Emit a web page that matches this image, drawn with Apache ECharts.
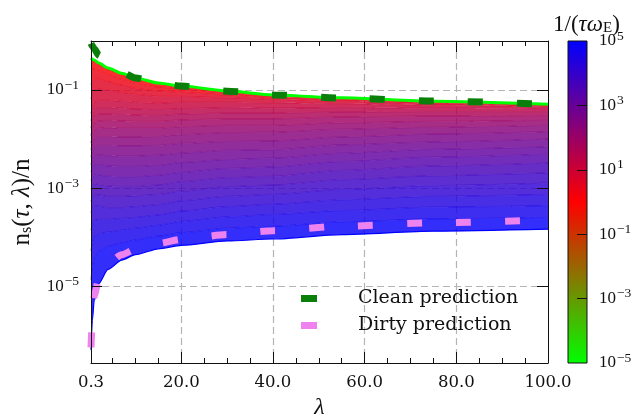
<!DOCTYPE html>
<html>
<head>
<meta charset="utf-8">
<script src="https://cdn.jsdelivr.net/npm/echarts@6/dist/echarts.min.js"></script>
<style>
  html, body { margin: 0; padding: 0; background: #ffffff; }
  #chart { width: 641px; height: 416px; }
</style>
</head>
<body>
<div id="chart"></div>
<script>
// λ sample points shared by every curve
const lambdaGrid = [0.3, 0.6, 1, 2, 4, 7, 10, 15, 20, 30, 40, 55, 75, 100];

// log10 of n_s(τ, λ)/n for the slowest ramp, 1/(τω_E) = 1e-5
const slowRampExponent = -5;
const slowRampCurve = [-0.35, -0.37, -0.39, -0.45, -0.55, -0.66, -0.755, -0.857, -0.92, -1.02, -1.10, -1.16, -1.23, -1.29];

// log10(1/(τω_E)) of each curve in the fan below it
const fanExponents = [0, 0.25, 0.5, 0.75, 1, 1.25, 1.5, 1.75, 2, 2.25, 2.5, 2.75, 3, 3.25, 3.5, 3.75, 4, 4.25, 4.5, 4.75, 5];

// log10 of n_s(τ, λ)/n, one row per exponent above, one column per λ
const fanCurves = [
  [-0.38, -0.40, -0.42, -0.49, -0.59, -0.70, -0.79, -0.88, -0.94, -1.03, -1.10, -1.16, -1.23, -1.29],
  [-0.59, -0.57, -0.57, -0.61, -0.68, -0.78, -0.86, -0.94, -0.98, -1.06, -1.12, -1.18, -1.24, -1.30],
  [-0.89, -0.82, -0.78, -0.78, -0.83, -0.90, -0.97, -1.02, -1.05, -1.10, -1.15, -1.20, -1.26, -1.31],
  [-1.18, -1.07, -1.01, -0.98, -1.00, -1.05, -1.09, -1.13, -1.13, -1.16, -1.19, -1.23, -1.28, -1.32],
  [-1.48, -1.34, -1.26, -1.21, -1.21, -1.23, -1.25, -1.27, -1.25, -1.25, -1.26, -1.28, -1.31, -1.34],
  [-1.63, -1.49, -1.40, -1.36, -1.36, -1.37, -1.39, -1.40, -1.38, -1.36, -1.37, -1.36, -1.37, -1.38],
  [-1.78, -1.63, -1.54, -1.49, -1.49, -1.50, -1.51, -1.52, -1.49, -1.47, -1.47, -1.45, -1.44, -1.44],
  [-1.93, -1.78, -1.68, -1.63, -1.62, -1.63, -1.64, -1.64, -1.61, -1.59, -1.59, -1.55, -1.53, -1.52],
  [-2.08, -1.93, -1.83, -1.78, -1.77, -1.78, -1.78, -1.78, -1.75, -1.72, -1.72, -1.67, -1.64, -1.62],
  [-2.22, -2.09, -2.00, -1.95, -1.95, -1.96, -1.96, -1.95, -1.91, -1.87, -1.86, -1.80, -1.76, -1.72],
  [-2.37, -2.25, -2.16, -2.13, -2.13, -2.14, -2.14, -2.13, -2.09, -2.05, -2.04, -1.96, -1.90, -1.85],
  [-2.52, -2.42, -2.34, -2.32, -2.34, -2.35, -2.35, -2.33, -2.29, -2.23, -2.22, -2.12, -2.06, -2.00],
  [-2.67, -2.59, -2.52, -2.52, -2.55, -2.56, -2.56, -2.54, -2.48, -2.42, -2.39, -2.29, -2.21, -2.16],
  [-2.85, -2.78, -2.72, -2.73, -2.76, -2.77, -2.77, -2.74, -2.68, -2.60, -2.57, -2.46, -2.37, -2.31],
  [-3.03, -2.96, -2.91, -2.93, -2.96, -2.97, -2.97, -2.94, -2.87, -2.79, -2.76, -2.64, -2.55, -2.49],
  [-3.27, -3.19, -3.13, -3.14, -3.17, -3.17, -3.16, -3.13, -3.06, -2.97, -2.94, -2.83, -2.75, -2.69],
  [-3.50, -3.43, -3.36, -3.37, -3.40, -3.40, -3.38, -3.34, -3.26, -3.17, -3.13, -3.03, -2.95, -2.90],
  [-3.86, -3.75, -3.66, -3.64, -3.64, -3.62, -3.60, -3.55, -3.47, -3.38, -3.33, -3.24, -3.17, -3.13],
  [-4.28, -4.11, -3.98, -3.93, -3.90, -3.86, -3.82, -3.76, -3.68, -3.59, -3.54, -3.46, -3.39, -3.36],
  [-4.87, -4.60, -4.41, -4.28, -4.19, -4.12, -4.06, -3.98, -3.91, -3.82, -3.78, -3.69, -3.63, -3.60],
  [-6.30, -5.70, -5.30, -4.95, -4.66, -4.47, -4.36, -4.24, -4.17, -4.08, -4.04, -3.95, -3.88, -3.84]
];

// analytic limits, log10 of n_s/n
const cleanPrediction = [-0.05, -0.10, -0.16, -0.29, -0.47, -0.64, -0.755, -0.86, -0.92, -1.025, -1.10, -1.165, -1.225, -1.29];
const dirtyPrediction = [-6.25, -5.70, -5.20, -4.85, -4.55, -4.36, -4.25, -4.13, -4.05, -3.95, -3.87, -3.78, -3.71, -3.65];

// axes
const lambdaMin = 0.3, lambdaMax = 100;
const lambdaTickLabels = [0.3, 20, 40, 60, 80, 100];
const lambdaMajorTicks = [20, 40, 60, 80];
const lambdaMinorTicks = [5, 10, 15, 25, 30, 35, 45, 50, 55, 65, 70, 75, 85, 90, 95];
const logNsMin = -6.57, logNsMax = 0;
const logNsTicks = [-5, -3, -1];
const colorbarMin = -5, colorbarMax = 5;
const colorbarLabels = [-5, -3, -1, 1, 3, 5];
const colorbarTicks = [-3, -1, 1, 3];

// lime -> red -> blue over log10(1/(τω_E)) in [-5, 5]
function rateColor(e) {
  let r, g, b;
  if (e <= 0) { const t = (e + 5) / 5; r = 255 * t; g = 255 * (1 - t); b = 0; }
  else { const t = e / 5; r = 255 * (1 - t); g = 0; b = 255 * t; }
  return 'rgb(' + Math.round(r) + ',' + Math.round(g) + ',' + Math.round(b) + ')';
}

const serif = 'DejaVu Serif';
const mathSerif = 'Liberation Serif';
const ink = '#111111';
const gridGrey = '#b4b4b4';

function powerLabel(v) {
  const e = Math.round(v);
  return '{b|10}{s|' + (e < 0 ? '\u2212' + (-e) : String(e)) + '}';
}
const powerRich = {
  b: { fontFamily: mathSerif, fontSize: 17, color: ink },
  s: { fontFamily: mathSerif, fontSize: 13.5, color: ink, padding: [0, 0, 10, 1] }
};

// points are stored as [value, λ] so that stacking runs on the value dimension
function pts(values) { return lambdaGrid.map((x, j) => [values[j], x]); }

// fan of curves, stacked so that each band between neighbours is filled
const fanSeries = [];
const last = fanCurves.length - 1;
const lineCommon = {
  type: 'line', stack: 'fan', stackStrategy: 'all', symbol: 'none',
  smooth: 0.25, smoothMonotone: 'x', silent: true, z: 2,
  xAxisIndex: 0, yAxisIndex: 0, emphasis: { disabled: true },
  encode: { x: 1, y: 0 }
};
fanSeries.push(Object.assign({}, lineCommon, {
  name: 'e' + fanExponents[last],
  data: pts(fanCurves[last]),
  lineStyle: { color: rateColor(fanExponents[last]), width: 1.2 }
}));
for (let k = last - 1; k >= 0; k--) {
  const step = fanCurves[k].map((v, j) => v - fanCurves[k + 1][j]);
  fanSeries.push(Object.assign({}, lineCommon, {
    name: 'e' + fanExponents[k],
    data: pts(step),
    lineStyle: { color: rateColor(fanExponents[k]), width: 0.8, opacity: 0.7 },
    areaStyle: { color: rateColor((fanExponents[k] + fanExponents[k + 1]) / 2), opacity: 0.82 }
  }));
}
fanSeries.push(Object.assign({}, lineCommon, {
  name: 'e' + slowRampExponent,
  data: pts(slowRampCurve.map((v, j) => v - fanCurves[0][j])),
  lineStyle: { color: rateColor(slowRampExponent), width: 3 },
  areaStyle: { color: rateColor(0), opacity: 0.9 }
}));

function predictionSeries(name, values, color) {
  return {
    name: name, type: 'line', symbol: 'none', smooth: 0.25, smoothMonotone: 'x',
    xAxisIndex: 0, yAxisIndex: 0, z: 4, silent: true,
    encode: { x: 1, y: 0 },
    data: pts(values),
    itemStyle: { color: color },
    lineStyle: { color: color, width: 7, type: [15, 34], cap: 'butt' }
  };
}

const colorbarGradient = new echarts.graphic.LinearGradient(0, 1, 0, 0, [
  { offset: 0, color: rateColor(-5) },
  { offset: 0.5, color: rateColor(0) },
  { offset: 1, color: rateColor(5) }
]);

const chart = echarts.init(document.getElementById('chart'), null, { renderer: 'canvas' });
chart.setOption({
  animation: false,
  backgroundColor: '#ffffff',
  title: {
    text: '{t|1/(}{i|\u03c4\u03c9}{sub|E}{t|)}',
    left: 548, top: 8,
    textStyle: {
      fontWeight: 'normal',
      rich: {
        t: { fontFamily: mathSerif, fontSize: 23, fontWeight: 'normal', color: ink },
        i: { fontFamily: mathSerif, fontStyle: 'italic', fontWeight: 'normal', fontSize: 23, color: ink },
        sub: { fontFamily: mathSerif, fontSize: 15, fontWeight: 'normal', color: ink, padding: [7, 0, 0, 0] }
      }
    }
  },
  legend: {
    data: ['Clean prediction', 'Dirty prediction'],
    orient: 'vertical', left: 296, top: 284,
    icon: 'rect', itemWidth: 16, itemHeight: 7, itemGap: 8,
    selectedMode: false,
    textStyle: { fontFamily: serif, fontSize: 19, color: ink, padding: [0, 0, 0, 36] }
  },
  grid: [
    { left: 91, right: 93, top: 41, bottom: 53, containLabel: false, outerBoundsMode: 'none' },
    { left: 568, width: 19, top: 41, bottom: 53, containLabel: false, outerBoundsMode: 'none' }
  ],
  xAxis: [
    { // bottom: labels, frame, major ticks
      type: 'value', gridIndex: 0, min: lambdaMin, max: lambdaMax, position: 'bottom', z: 10,
      name: '\u03bb', nameLocation: 'middle', nameGap: 32,
      nameTextStyle: { fontFamily: mathSerif, fontStyle: 'italic', fontSize: 24, color: ink },
      axisLine: { show: true, onZero: false, lineStyle: { color: ink, width: 1 } },
      axisTick: { show: true, inside: true, length: 11, customValues: lambdaMajorTicks, lineStyle: { color: ink } },
      axisLabel: { customValues: lambdaTickLabels, formatter: v => Number(v).toFixed(1), margin: 11,
                   fontFamily: serif, fontSize: 16.5, color: ink },
      splitLine: { show: false }
    },
    { // bottom minor ticks
      type: 'value', gridIndex: 0, min: lambdaMin, max: lambdaMax, position: 'bottom', z: 10,
      axisLine: { show: false, onZero: false },
      axisTick: { show: true, inside: true, length: 5, customValues: lambdaMinorTicks, lineStyle: { color: ink } },
      axisLabel: { show: false }, splitLine: { show: false }
    },
    { // top frame, major ticks
      type: 'value', gridIndex: 0, min: lambdaMin, max: lambdaMax, position: 'top', z: 10,
      axisLine: { show: true, onZero: false, lineStyle: { color: ink, width: 1 } },
      axisTick: { show: true, inside: true, length: 11, customValues: lambdaMajorTicks, lineStyle: { color: ink } },
      axisLabel: { show: false }, splitLine: { show: false }
    },
    { // top minor ticks
      type: 'value', gridIndex: 0, min: lambdaMin, max: lambdaMax, position: 'top', z: 10,
      axisLine: { show: false, onZero: false },
      axisTick: { show: true, inside: true, length: 5, customValues: lambdaMinorTicks, lineStyle: { color: ink } },
      axisLabel: { show: false }, splitLine: { show: false }
    },
    { // dashed vertical grid, under the curves
      type: 'value', gridIndex: 0, min: lambdaMin, max: lambdaMax, position: 'bottom', z: 0,
      axisLine: { show: false, onZero: false },
      axisTick: { show: false, customValues: lambdaMajorTicks },
      axisLabel: { show: false, customValues: lambdaMajorTicks },
      splitLine: { show: true, lineStyle: { color: gridGrey, width: 1.2, type: [7, 4] } }
    },
    { // colorbar
      type: 'value', gridIndex: 1, min: 0, max: 1, show: false
    }
  ],
  yAxis: [
    { // left: labels, frame, ticks
      type: 'value', gridIndex: 0, min: logNsMin, max: logNsMax, position: 'left', z: 10,
      name: '{r|n}{sub|s}{r|(}{i|\u03c4}{r|, }{i|\u03bb}{r|)/n}',
      nameLocation: 'middle', nameGap: 56, nameRotate: 90,
      nameTextStyle: {
        rich: {
          r: { fontFamily: mathSerif, fontSize: 25, color: ink },
          i: { fontFamily: mathSerif, fontStyle: 'italic', fontSize: 25, color: ink },
          sub: { fontFamily: mathSerif, fontSize: 16, color: ink, padding: [9, 0, 0, 0] }
        }
      },
      axisLine: { show: true, onZero: false, lineStyle: { color: ink, width: 1 } },
      axisTick: { show: true, inside: true, length: 11, customValues: logNsTicks, lineStyle: { color: ink } },
      axisLabel: { customValues: logNsTicks, formatter: powerLabel, rich: powerRich, margin: 12 },
      splitLine: { show: false }
    },
    { // right frame and ticks
      type: 'value', gridIndex: 0, min: logNsMin, max: logNsMax, position: 'right', z: 10,
      axisLine: { show: true, onZero: false, lineStyle: { color: ink, width: 1 } },
      axisTick: { show: true, inside: true, length: 11, customValues: logNsTicks, lineStyle: { color: ink } },
      axisLabel: { show: false }, splitLine: { show: false }
    },
    { // dashed horizontal grid, under the curves
      type: 'value', gridIndex: 0, min: logNsMin, max: logNsMax, position: 'left', z: 0,
      axisLine: { show: false, onZero: false },
      axisTick: { show: false, customValues: logNsTicks },
      axisLabel: { show: false, customValues: logNsTicks },
      splitLine: { show: true, lineStyle: { color: gridGrey, width: 1.2, type: [7, 4] } }
    },
    { // colorbar scale
      type: 'value', gridIndex: 1, min: colorbarMin, max: colorbarMax, position: 'right', z: 10,
      axisLine: { show: false, onZero: false },
      axisTick: { show: true, inside: true, length: 10, customValues: colorbarTicks, lineStyle: { color: ink } },
      axisLabel: { customValues: colorbarLabels, formatter: powerLabel, rich: powerRich, margin: 12 },
      splitLine: { show: false }
    }
  ],
  series: fanSeries.concat([
    predictionSeries('Clean prediction', cleanPrediction, '#0a800a'),
    predictionSeries('Dirty prediction', dirtyPrediction, '#ee82ee'),
    {
      type: 'custom', xAxisIndex: 5, yAxisIndex: 3, silent: true, z: 2,
      data: [[0, colorbarMin]],
      renderItem: function (params, api) {
        const a = api.coord([0, colorbarMin]);
        const b = api.coord([1, colorbarMax]);
        return {
          type: 'rect',
          shape: { x: a[0], y: b[1], width: b[0] - a[0], height: a[1] - b[1] },
          style: { fill: colorbarGradient, stroke: ink, lineWidth: 1 }
        };
      }
    }
  ])
});
</script>
</body>
</html>
